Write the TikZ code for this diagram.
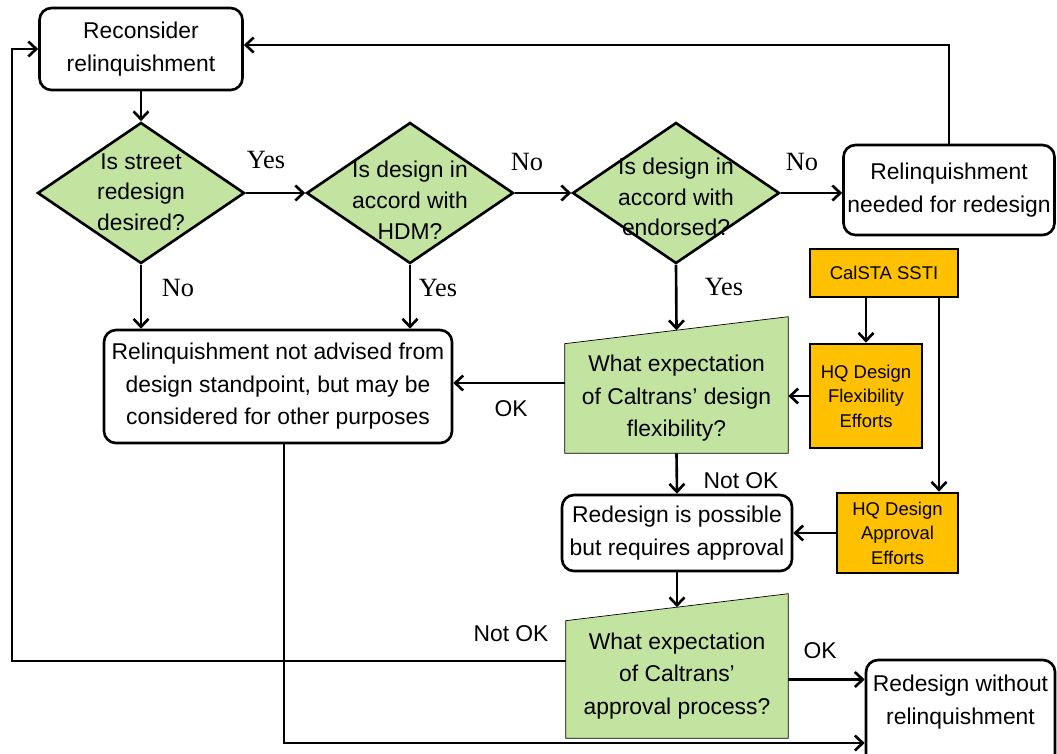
\documentclass[tikz,border=0pt]{standalone}
\usepackage{fontspec}
\setmainfont{Liberation Sans}
\newfontfamily\yesnofont{Liberation Serif}
\usepackage{tikz}
\usetikzlibrary{shapes.geometric, arrows.meta, positioning, backgrounds, calc}
\definecolor{qgreen}{RGB}{195,228,160}
\definecolor{effortgold}{RGB}{255,192,0}
\tikzset{
    stepbox/.style={draw, rounded corners=0.24cm, fill=white, align=center, font=\fontsize{13}{18.5}\selectfont, inner sep=0pt},
    decision/.style={draw, diamond, fill=qgreen, minimum width=4.14cm, minimum height=2.82cm, inner sep=0pt},
    qtext/.style={align=center, font=\fontsize{13}{17.5}\selectfont, inner sep=0pt},
    ioq/.style={align=center, font=\fontsize{13}{18.5}\selectfont, inner sep=0pt},
    effort/.style={draw, fill=effortgold, align=center, font=\fontsize{10.5}{14}\selectfont, inner sep=0pt},
    arr/.style={-{Straight Barb[length=4.5pt,width=8.5pt]}},
    yn/.style={font=\yesnofont\fontsize{15}{15}\selectfont, inner sep=0pt},
    ok/.style={font=\fontsize{13}{13}\selectfont, inner sep=0pt},
}

\begin{document}
\begin{tikzpicture}[line width=1.5pt]
                 \clip (0,0) rectangle (21.14,-15.06);

                 \node[stepbox, minimum width=4.06cm, minimum height=1.64cm] (recon) at (2.82,-0.98) {Reconsider\\relinquishment};

                 \node[decision] (d1) at (2.82,-3.86) {};
                 \node[qtext] (d1text) at (2.82,-3.84) {Is street\\redesign\\desired?};
                 \node[decision] (d2) at (8.2,-3.86) {};
                 \node[qtext] (d2text) at (8.2,-4.0) {Is design in\\accord with\\HDM?};
                 \node[decision] (d3) at (13.52,-3.86) {};
                 \node[qtext] (d3text) at (13.52,-3.94) {Is design in\\accord with\\endorsed?};

                 \node[stepbox, minimum width=4.22cm, minimum height=1.8cm] (needed) at (18.98,-3.8) {Relinquishment\\needed for redesign};
                 \node[stepbox, minimum width=6.96cm, minimum height=2.26cm] (notadv) at (5.56,-7.73) {Relinquishment not advised from\\design standpoint, but may be\\considered for other purposes};

                 \node[effort, minimum width=2.96cm, minimum height=0.96cm] (calsta) at (17.68,-5.46) {CalSTA SSTI};
                 \node[effort, minimum width=2.24cm, minimum height=2.08cm] (hqflex) at (17.32,-7.92) {HQ Design\\Flexibility\\Efforts};
                 \node[effort, minimum width=2.42cm, minimum height=1.6cm] (hqappr) at (17.95,-10.66) {HQ Design\\Approval\\Efforts};

                 \node[ioq, minimum width=4.42cm, minimum height=2.14cm] (q1) at (13.53,-7.97) {What expectation\\of Caltrans' design\\flexibility?};
                 \node[stepbox, minimum width=4.6cm, minimum height=1.52cm] (redes) at (13.54,-10.66) {Redesign is possible\\but requires approval};
                 \node[ioq, minimum width=4.4cm, minimum height=2.3cm] (q2) at (13.54,-13.59) {};
                 \node[ioq] (q2text) at (13.54,-13.52) {What expectation\\of Caltrans'\\approval process?};

                 \node[stepbox, minimum width=3.78cm, minimum height=2.4cm] (without) at (19.21,-14.4) {};
                 \node[ioq] (withouttext) at (19.21,-14.04) {Redesign without\\relinquishment};

                 % slanted input shapes
                 \begin{scope}[on background layer]
                 \filldraw[fill=qgreen] (q1.south west) -- (q1.south east) -- ([yshift=0.54cm]q1.north east) -- (q1.north west) -- cycle;
                 \filldraw[fill=qgreen] (q2.south west) -- (q2.south east) -- ([yshift=0.54cm]q2.north east) -- (q2.north west) -- cycle;
                 \end{scope}

                 \draw[arr] (recon.south) -- (d1.north);
                 \draw[arr] (d1.east) -- (d2.west);
                 \draw[arr] (d2.east) -- (d3.west);
                 \draw[arr] (d3.east) -- (d3.east -| needed.west);
                 \draw[arr] (d1.south) -- (d1.south |- notadv.north);
                 \draw[arr] (d2.south) -- (d2.south |- notadv.north);
                 \draw[arr] (d3.south) -- ([yshift=0.27cm]q1.north);
                 \draw[arr] (needed.north) |- ([yshift=0.08cm]recon.east);

                 \draw[arr] (calsta.south -| hqflex.north) -- (hqflex.north);
                 \draw[arr] ([xshift=1.1cm]calsta.south) -- ([xshift=1.1cm]calsta.south |- hqappr.north);
                 \draw[arr] (hqflex.west) -- (hqflex.west -| q1.east);
                 \draw[arr] (hqappr.west) -- (redes.east);

                 \draw[arr] ([yshift=0.31cm]q1.west) -- ([yshift=0.31cm]q1.west -| notadv.east);
                 \draw[arr] (q1.south) -- (redes.north);
                 \draw[arr] (redes.south) -- ([yshift=0.27cm]q2.north);
                 \draw[arr] (q2.east) -- (q2.east -| without.west);

                 \coordinate (loopl) at (0.24,-13.22);
                 \draw[arr] ([yshift=0.37cm]q2.west) -- (loopl) |- (recon.west);
                 \draw[arr] ([xshift=0.12cm]notadv.south) |- ([yshift=-0.46cm]without.west);

                 \node[yn] (yes1) at (5.32,-3.2) {Yes};
                 \node[yn] (no1) at (10.54,-3.24) {No};
                 \node[yn] (no2) at (16.04,-3.24) {No};
                 \node[yn] (no3) at (3.56,-5.76) {No};
                 \node[yn] (yes2) at (8.76,-5.76) {Yes};
                 \node[yn] (yes3) at (14.48,-5.74) {Yes};

                 \node[ok] (ok1) at (10.22,-8.18) {OK};
                 \node[ok] (notok1) at (14.82,-9.62) {Not OK};
                 \node[ok] (notok2) at (10.22,-12.68) {Not OK};
                 \node[ok] (ok2) at (16.4,-13.02) {OK};
             \end{tikzpicture}
\end{document}
